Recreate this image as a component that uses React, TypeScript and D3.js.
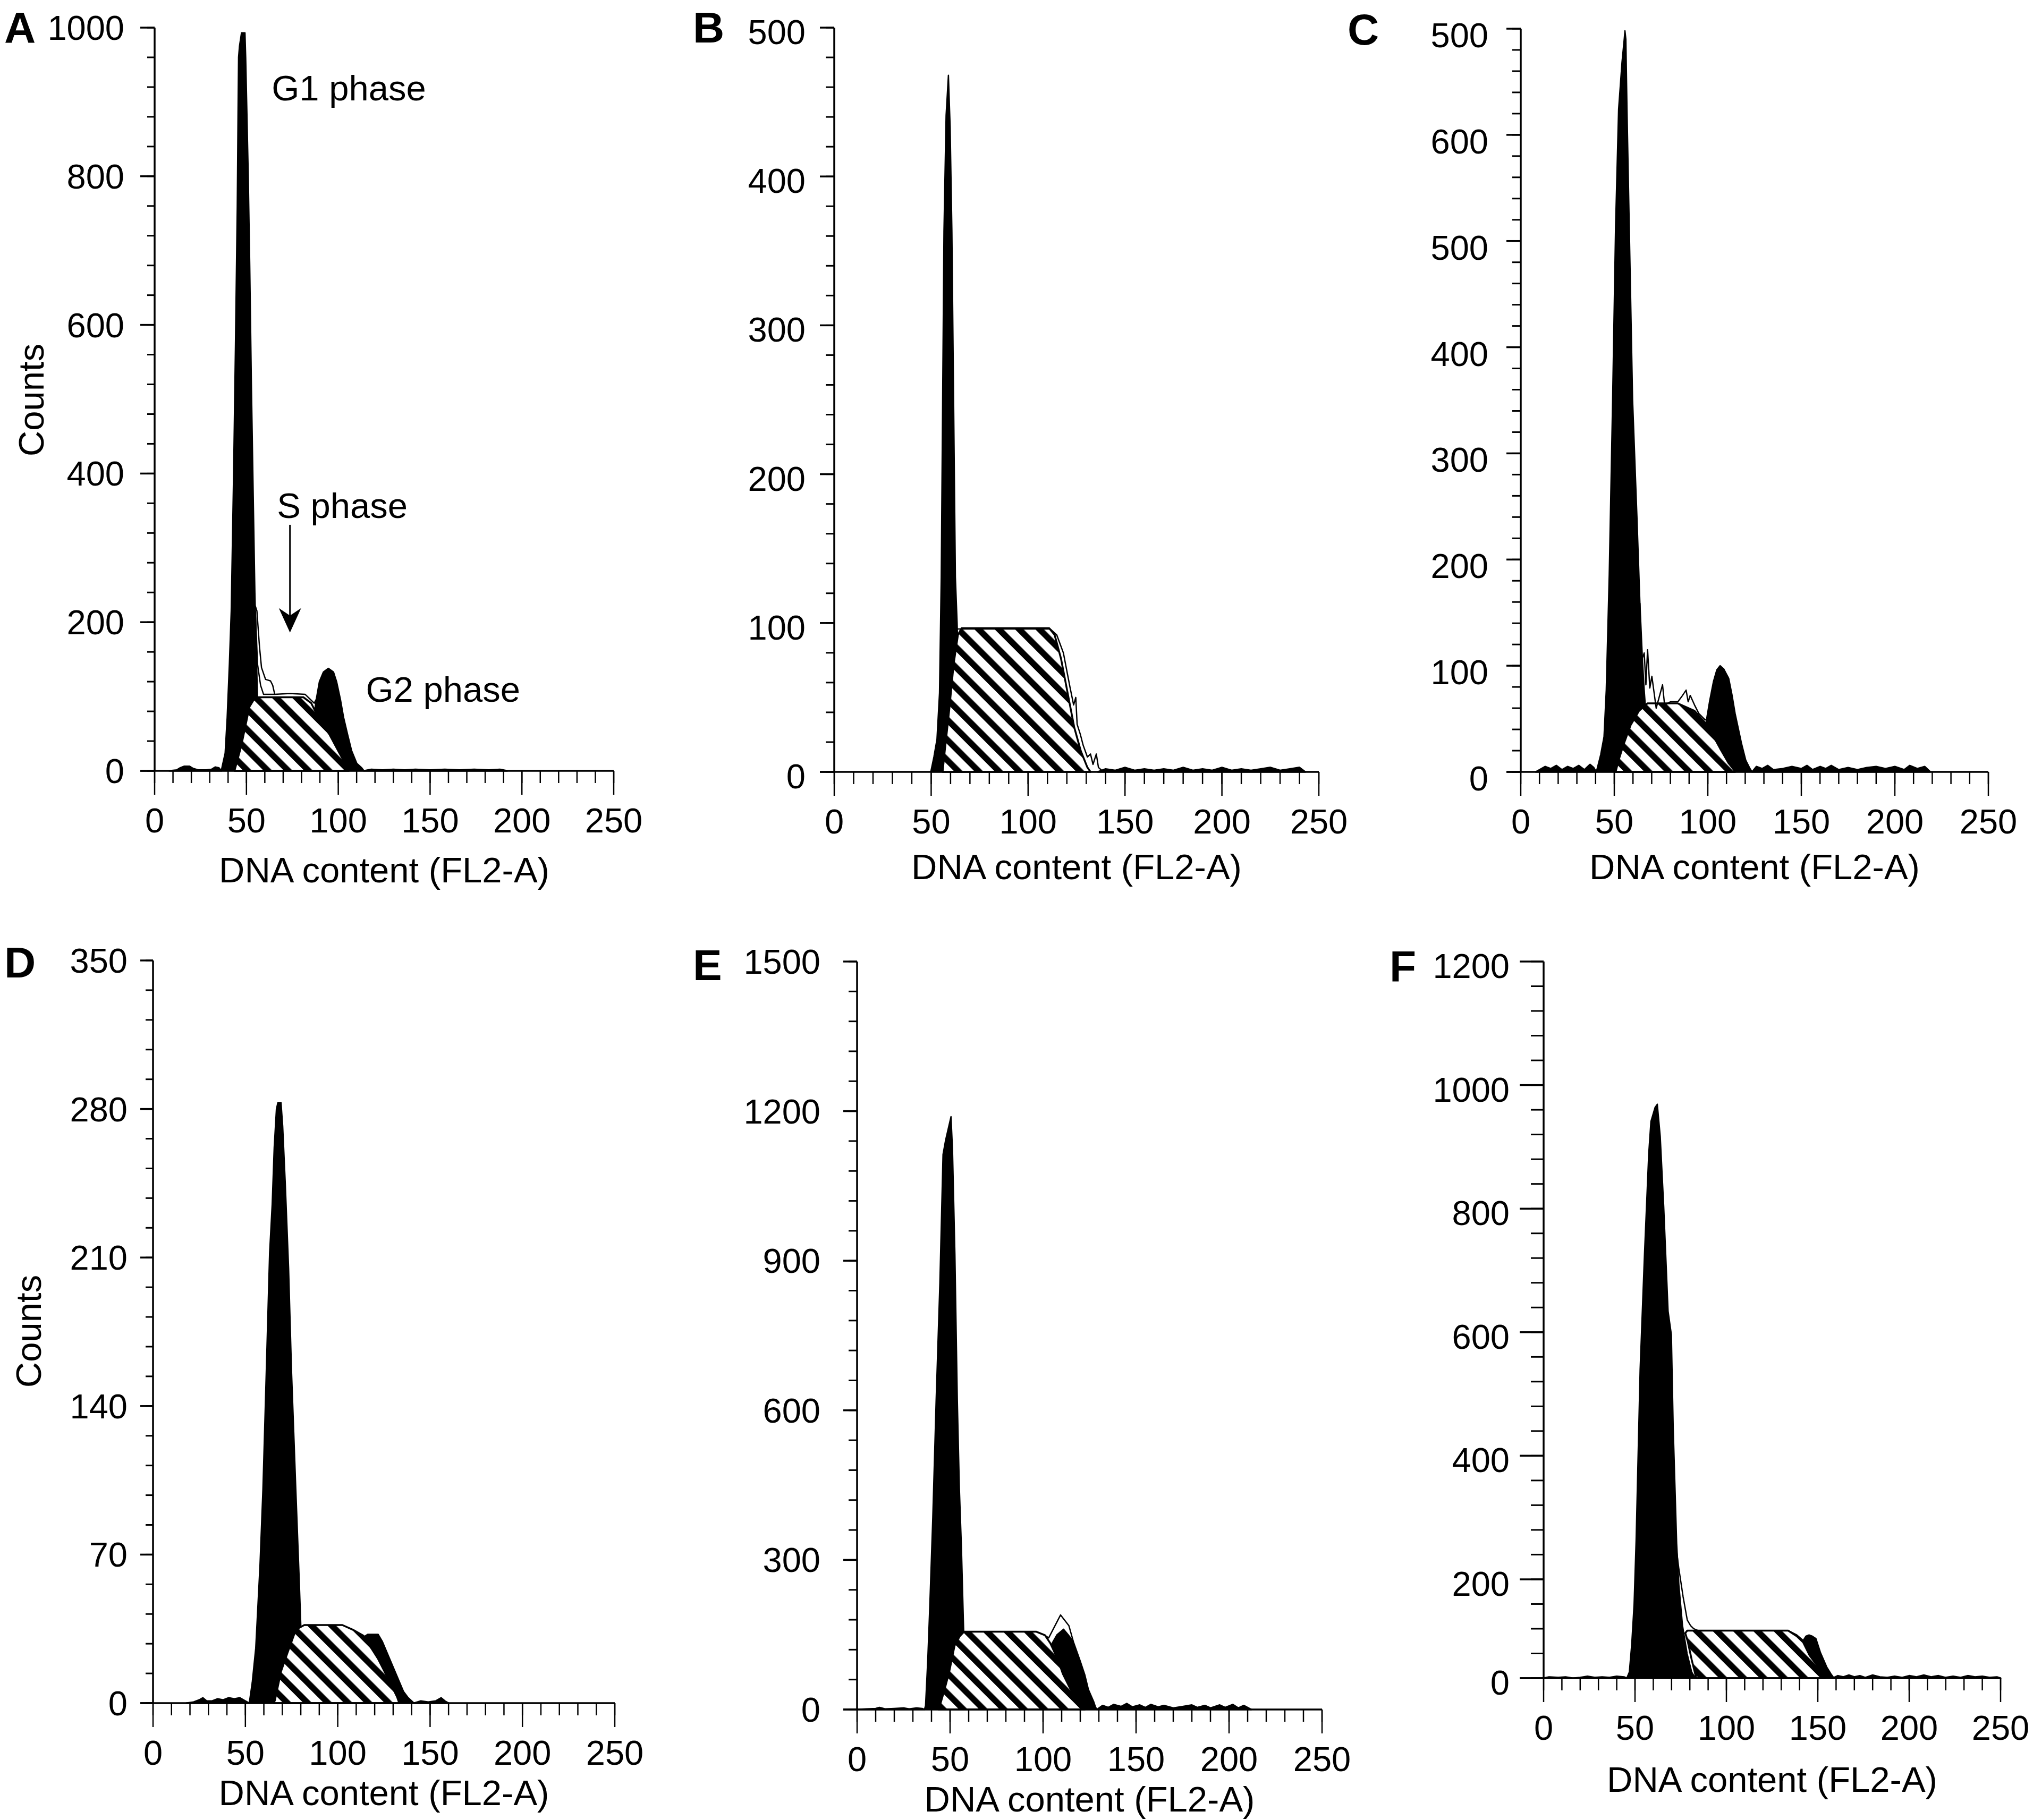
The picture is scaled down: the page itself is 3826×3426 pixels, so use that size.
import React from 'react';
import * as d3 from 'd3';

type Pt = [number, number];

// ---------- shared axis data ----------
const xMajorTicks = [0, 50, 100, 150, 200, 250];
const xMinorStep = 10;
const xTitle = 'DNA content (FL2-A)';
const yTitle = 'Counts';

// ---------- Panel A ----------
const aG1: Pt[] = [[36.3,0],[36.8,6],[38.4,24],[39.5,72],[40.7,144],[41.7,215],[43,400],[44,571],[45,760],[45.4,880],[45.7,960],[46.2,975],[47.3,993],[49.2,993],[49.6,960],[50.3,880],[51,800],[51.8,680],[52.7,520],[53.7,370],[54.6,240],[55.2,180],[55.6,140],[56,100],[57.5,60],[59,30],[61,10],[63,0]];
const aG2: Pt[] = [[82,0],[84.5,30],[86.5,70],[88,96],[89.7,120],[91.9,133],[94.6,138],[97.4,133],[99.1,120],[101.2,96],[102.9,72],[105.1,49],[107.3,27],[110.1,10],[112.8,4],[114,0]];
const aS: Pt[] = [[43.5,0],[43.8,3],[47.2,34],[49.4,60],[51.6,86],[53.8,95],[56.5,99],[81,99],[85.3,91],[89.1,72],[95.2,49],[100.6,24],[105.1,4],[105.8,0]];
const aLine1: Pt[] = [[54.8,222],[55.7,215],[57.1,167],[58.2,139],[60.4,123],[63.1,121],[64.3,115],[65.4,103],[73.7,104],[81.9,103],[86.9,91],[88,96]];
const aLine2: Pt[] = [[54.9,215],[56,144],[57.7,115],[59.3,103],[65.4,103]];
const aNoiseL: Pt[] = [[8,0],[12,1],[14,4],[16,6],[19,6],[21,3],[24,1],[28,1],[31,2],[33,5],[35,4],[36.3,0]];
const aNoiseR: Pt[] = [[114,0],[118,2],[124,1],[130,2],[136,1],[142,2],[150,1],[158,2],[166,1],[174,2],[182,1],[188,2],[192,0]];

// ---------- Panel B ----------
const bG1: Pt[] = [[49.8,0],[51.4,10],[53,22],[54.3,53],[55.2,131],[55.9,247],[56.6,363],[57.7,441],[58.9,468],[59.8,433],[60.7,363],[61.6,247],[62.5,131],[63.4,100],[64.3,53],[65.7,14],[67,0]];
const bG2: Pt[] = [];
const bS: Pt[] = [[55.9,0],[57,14],[59.3,41.5],[61.6,72.5],[63.8,92],[65.7,96.5],[110.9,96.5],[113.7,92],[117,76],[120.4,53],[123.8,30],[127.2,14],[130.6,3],[132.2,0]];
const bLine1: Pt[] = [[63.4,96],[111.4,96],[114.8,92],[118.2,80],[121.6,57],[123.5,45],[124.6,50],[125.3,32],[127,25],[128.4,18],[130.6,10],[132.2,12],[133.5,5],[135.2,12],[136.3,3],[138,1]];
const bLine2: Pt[] = [];
const bNoiseL: Pt[] = [];
const bNoiseR: Pt[] = [[136,0],[140,2],[145,1],[150,3],[155,1],[160,2],[165,1],[170,2],[175,1],[180,3],[185,1],[190,2],[195,1],[200,3],[205,1],[210,2],[215,1],[220,2],[225,3],[230,1],[235,2],[240,3],[243,0]];

// ---------- Panel C ----------
const cG1: Pt[] = [[40.4,0],[42.7,16],[44.5,33],[45.7,77],[47.3,186],[49.1,350],[50.7,515],[52.3,624],[54.1,668],[55.3,690],[55.7,698],[56.2,690],[56.8,624],[58,515],[59.8,350],[62.1,241],[63.7,159],[65.1,104],[66,77],[67.8,33],[70.1,0]];
const cG2: Pt[] = [[96,0],[97.5,20],[98.6,38],[99.3,49],[100.9,66],[103,85],[104.8,96],[106.6,100],[108.5,97],[111.2,88],[113,72],[114.6,55],[118,27],[120.3,11],[122.6,3],[123.7,0]];
const cS: Pt[] = [[50.7,0],[52.3,11],[55.2,27],[58.7,44],[63.2,57.5],[67.8,64.6],[83.8,64.6],[92.9,57.5],[99.8,44],[106.6,22],[111.2,8],[113.5,3],[114.6,0]];
const cLine1: Pt[] = [[63.7,159],[64.4,104],[66,112],[66.9,82],[67.8,115],[69,79],[70.1,90],[72.4,60],[75.8,82],[76.9,63],[80,66],[84,66],[86.1,71],[88.4,77],[89.5,66],[90.6,72],[92.9,63],[95.2,55],[98.6,49],[99.3,49]];
const cLine2: Pt[] = [];
const cNoiseL: Pt[] = [[8,0],[10,2],[13,5],[16,3],[19,6],[22,2],[25,5],[28,3],[31,6],[34,2],[37,7],[39,4],[40.4,0]];
const cNoiseR: Pt[] = [[123.7,0],[126,5],[129,3],[132,6],[135,2],[140,3],[145,5],[150,3],[153,6],[156,2],[160,5],[163,3],[166,6],[170,2],[175,4],[180,2],[185,4],[190,5],[195,3],[200,5],[205,2],[208,6],[212,3],[216,5],[219,0]];

// ---------- Panel D ----------
const dG1: Pt[] = [[52.1,0],[53.7,9.7],[55.6,26],[57.9,65],[59.5,101],[61.3,156],[63.1,212],[64.5,235],[65.6,262],[66.8,280],[67.6,283],[69.3,283],[70.2,272],[71.6,245],[73.4,205],[75,156],[77.3,101],[79.1,59.5],[80,37],[80.7,18],[81.9,0]];
const dG2: Pt[] = [[100,0],[106,15],[110,27],[112.7,30.4],[116.2,32.4],[121.9,32.4],[124.2,29],[127.6,22],[132.2,12.5],[135.6,5.5],[137.9,2.8],[141.3,0]];
const dS: Pt[] = [[65.4,0],[66,1.4],[69.3,15],[72.7,23.5],[77.3,34.6],[81.9,36.8],[102.5,36.8],[108.2,34.6],[113.9,31.8],[121.9,20.8],[127.6,11],[132.2,2.8],[133.3,0]];
const dLine1: Pt[] = [];
const dLine2: Pt[] = [];
const dNoiseL: Pt[] = [[18,0],[22,0.5],[25,1.5],[27,2.5],[29,1],[32,1],[35,2],[38,1.5],[41,2.5],[44,2],[47,2.5],[50,1],[52.1,0]];
const dNoiseR: Pt[] = [[141.3,0],[145,1],[149,0.5],[153,1],[156,2.5],[158,1],[160,0]];

// ---------- Panel E ----------
const eG1: Pt[] = [[36.2,0],[36.8,8],[38,100],[39.1,209],[40.7,385],[42.5,620],[44.5,854],[46.2,1113],[47.6,1142],[50.5,1189],[51.3,1124],[52.6,913],[53.9,620],[55,444],[56.1,326],[57.1,185],[57.9,92],[59.5,0]];
const eG2: Pt[] = [[100,0],[103,60],[104.9,133],[107.5,150],[111,161],[113.5,150],[116.3,136],[120,97],[122.5,69],[124.4,40],[127.2,16],[128.2,5],[129,0]];
const eS: Pt[] = [[43.8,0],[44.3,5],[47,40],[49.5,75],[52.4,128],[55.2,147],[57.5,156],[96.4,156],[101,149],[103.9,133],[108,100],[110.6,72],[113.5,50],[116.3,30],[119.5,12],[122,1.4],[122.5,0]];
const eLine1: Pt[] = [[96.4,156],[101,149],[103,143.5],[109.4,189.6],[113.9,168],[116.3,136]];
const eLine2: Pt[] = [];
const eNoiseL: Pt[] = [[0,0],[5,1],[10,2],[12,4],[15,1],[20,2],[25,3],[28,1],[32,3],[35,2],[36.2,0]];
const eNoiseR: Pt[] = [[129,0],[132,8],[135,4],[138,10],[142,6],[145,12],[148,5],[152,9],[155,4],[158,10],[162,5],[165,8],[170,3],[175,6],[180,9],[183,4],[187,8],[190,3],[195,9],[198,4],[202,10],[205,3],[208,8],[212,0]];

// ---------- Panel F ----------
const fG1: Pt[] = [[45.5,40],[46.9,50],[48.2,95],[49.5,160],[50.6,263],[51.3,351],[52.8,540],[55.2,728],[57.5,889],[58.7,941],[61,964],[62.2,969],[63.8,917],[65.7,804],[68.1,634],[69.9,596],[70.9,445],[72.8,258],[74,191],[76,125],[78.5,80],[81,50],[83,40]];
const fG2: Pt[] = [[138,40],[140,70],[142,101],[143.5,108],[145.2,110],[147,108],[149,104],[151.4,82],[154.9,58],[157.2,47],[158.4,42],[159,40]];
const fS: Pt[] = [[83.5,40],[81,70],[78.8,100],[77.5,113],[78.6,117],[133.8,117],[138.5,108],[142,98],[145.5,77],[149,63],[152.6,49],[154,40]];
const fLine1: Pt[] = [[72.3,257],[73.9,219],[76.3,172],[78.6,134],[80.4,125],[82.1,120],[84.5,117],[133.8,117],[138.5,110],[142,101]];
const fLine2: Pt[] = [];
const fNoiseL: Pt[] = [[0,40],[3,42],[8,41],[12,42],[16,40],[20,41],[24,43],[28,41],[32,42],[36,41],[40,43],[44,42],[45.5,40]];
const fNoiseR: Pt[] = [[158,40],[161,44],[164,42],[167,45],[170,42],[173,44],[176,41],[180,45],[184,42],[188,41],[192,43],[196,41],[200,44],[204,42],[208,45],[212,42],[216,44],[220,41],[224,43],[228,41],[232,44],[236,42],[240,43],[244,41],[248,42],[250,40]];

// ---------- y-axis ticks ----------
const aYTicks = [0, 200, 400, 600, 800, 1000];
const aYLabels = ['0', '200', '400', '600', '800', '1000'];
const bYTicks = [0, 100, 200, 300, 400, 500];
const bYLabels = ['0', '100', '200', '300', '400', '500'];
const cYTicks = [0, 100, 200, 300, 400, 500, 600, 700];
const cYLabels = ['0', '100', '200', '300', '400', '500', '600', '500'];
const dYTicks = [0, 70, 140, 210, 280, 350];
const dYLabels = ['0', '70', '140', '210', '280', '350'];
const eYTicks = [0, 300, 600, 900, 1200, 1500];
const eYLabels = ['0', '300', '600', '900', '1200', '1500'];
const fYTicks = [40, 200, 400, 600, 800, 1000, 1200];
const fYLabels = ['0', '200', '400', '600', '800', '1000', '1200'];

// annotations of panel A (data coordinates)
const aAnnotations = [
  { text: 'G1 phase', x: 63.7, y: 902 },
  { text: 'S phase', x: 66.6, y: 340 },
  { text: 'G2 phase', x: 115, y: 93 },
];
const aArrow = { x: 73.7, yFrom: 331, yTo: 186 };

interface PanelCfg {
  letter: string;
  lx: number; ly: number;
  x0: number; x1: number; yT: number; yB: number;
  yDomain: [number, number];
  yTicks: number[]; yLabels: string[]; yMinor: number;
  gap: number; dy: number; titleDy: number;
  yMaj: number; yMin: number;
  counts?: [number, number];
  g1: Pt[]; g2: Pt[]; s: Pt[]; line1: Pt[]; line2: Pt[]; noiseL: Pt[]; noiseR: Pt[];
  annotate?: boolean;
}

const panels: PanelCfg[] = [
  { letter: 'A', lx: 8, ly: 80, x0: 291, x1: 1155, yT: 52, yB: 1451, yDomain: [0, 1000], yTicks: aYTicks, yLabels: aYLabels, yMinor: 40, gap: 57, dy: 0, titleDy: 210, yMaj: 27, yMin: 14, counts: [82, 753], g1: aG1, g2: aG2, s: aS, line1: aLine1, line2: aLine2, noiseL: aNoiseL, noiseR: aNoiseR, annotate: true },
  { letter: 'B', lx: 1304, ly: 80, x0: 1570, x1: 2482, yT: 52, yB: 1453, yDomain: [0, 500], yTicks: bYTicks, yLabels: bYLabels, yMinor: 20, gap: 54, dy: 8, titleDy: 202, yMaj: 27, yMin: 16, g1: bG1, g2: bG2, s: bS, line1: bLine1, line2: bLine2, noiseL: bNoiseL, noiseR: bNoiseR },
  { letter: 'C', lx: 2536, ly: 84, x0: 2862, x1: 3742, yT: 54, yB: 1453, yDomain: [0, 700], yTicks: cYTicks, yLabels: cYLabels, yMinor: 20, gap: 61, dy: 12, titleDy: 202, yMaj: 27, yMin: 16, g1: cG1, g2: cG2, s: cS, line1: cLine1, line2: cLine2, noiseL: cNoiseL, noiseR: cNoiseR },
  { letter: 'D', lx: 8, ly: 1840, x0: 288, x1: 1157, yT: 1808, yB: 3206, yDomain: [0, 350], yTicks: dYTicks, yLabels: dYLabels, yMinor: 14, gap: 48, dy: 0, titleDy: 192, yMaj: 24, yMin: 14, counts: [77, 2506], g1: dG1, g2: dG2, s: dS, line1: dLine1, line2: dLine2, noiseL: dNoiseL, noiseR: dNoiseR },
  { letter: 'E', lx: 1304, ly: 1845, x0: 1613, x1: 2488, yT: 1810, yB: 3218, yDomain: [0, 1500], yTicks: eYTicks, yLabels: eYLabels, yMinor: 60, gap: 69, dy: 0, titleDy: 192, yMaj: 26, yMin: 16, g1: eG1, g2: eG2, s: eS, line1: eLine1, line2: eLine2, noiseL: eNoiseL, noiseR: eNoiseR },
  { letter: 'F', lx: 2615, ly: 1848, x0: 2905, x1: 3765, yT: 1810, yB: 3159, yDomain: [40, 1200], yTicks: fYTicks, yLabels: fYLabels, yMinor: 40, gap: 64, dy: 8, titleDy: 214, yMaj: 45, yMin: 24, g1: fG1, g2: fG2, s: fS, line1: fLine1, line2: fLine2, noiseL: fNoiseL, noiseR: fNoiseR },
];

const FONT = '"Liberation Sans", Arial, Helvetica, sans-serif';
const FS = 65;
const FS_TITLE = 67;

function Panel({ cfg }: { cfg: PanelCfg }) {
  const x = d3.scaleLinear().domain([0, 250]).range([cfg.x0, cfg.x1]);
  const y = d3.scaleLinear().domain(cfg.yDomain).range([cfg.yB, cfg.yT]);
  const line = d3.line<Pt>().x(d => x(d[0])).y(d => y(d[1]));
  const closed = (pts: Pt[]) => (pts.length ? (line(pts) || '') + 'Z' : '');
  const open = (pts: Pt[]) => (pts.length ? line(pts) || '' : '');

  const yMinorTicks = d3.range(cfg.yDomain[0], cfg.yDomain[1] + 0.001, cfg.yMinor);
  const xMinorTicks = d3.range(0, 250.001, xMinorStep);

  return (
    <g>
      {/* debris / noise */}
      <path d={closed(cfg.noiseL)} fill="#000" stroke="#000" strokeWidth={3} strokeLinejoin="round" />
      <path d={closed(cfg.noiseR)} fill="#000" stroke="#000" strokeWidth={3} strokeLinejoin="round" />
      {/* G1 and G2 peaks */}
      <path d={closed(cfg.g1)} fill="#000" stroke="#000" strokeWidth={2.5} strokeLinejoin="round" />
      <path d={closed(cfg.g2)} fill="#000" stroke="#000" strokeWidth={2.5} strokeLinejoin="round" />
      {/* S phase (hatched) */}
      <path d={closed(cfg.s)} fill="url(#hatch)" stroke="#000" strokeWidth={3.5} strokeLinejoin="round" />
      {/* measured histogram outline */}
      <path d={open(cfg.line1)} fill="none" stroke="#000" strokeWidth={2.5} strokeLinejoin="round" />
      <path d={open(cfg.line2)} fill="none" stroke="#000" strokeWidth={2.5} strokeLinejoin="round" />

      {/* y axis */}
      <line x1={cfg.x0} x2={cfg.x0} y1={cfg.yT} y2={cfg.yB} stroke="#000" strokeWidth={3.5} />
      {yMinorTicks.map((v, i) => (
        <line key={'ym' + i} x1={cfg.x0 - cfg.yMin} x2={cfg.x0} y1={y(v)} y2={y(v)} stroke="#000" strokeWidth={3} />
      ))}
      {cfg.yTicks.map((v, i) => (
        <g key={'yM' + i}>
          <line x1={cfg.x0 - cfg.yMaj} x2={cfg.x0} y1={y(v)} y2={y(v)} stroke="#000" strokeWidth={3.5} />
          <text x={cfg.x0 - cfg.gap} y={y(v) + 23 + cfg.dy} textAnchor="end" fontFamily={FONT} fontSize={FS} fill="#000">{cfg.yLabels[i]}</text>
        </g>
      ))}

      {/* x axis */}
      <line x1={cfg.x0 - cfg.yMaj} x2={cfg.x1} y1={cfg.yB} y2={cfg.yB} stroke="#000" strokeWidth={3.5} />
      {xMinorTicks.map((v, i) => (
        <line key={'xm' + i} x1={x(v)} x2={x(v)} y1={cfg.yB} y2={cfg.yB + 23} stroke="#000" strokeWidth={2.5} />
      ))}
      {xMajorTicks.map((v, i) => (
        <g key={'xM' + i}>
          <line x1={x(v)} x2={x(v)} y1={cfg.yB} y2={cfg.yB + 45} stroke="#000" strokeWidth={2.5} />
          <text x={x(v)} y={cfg.yB + 116} textAnchor="middle" fontFamily={FONT} fontSize={FS} fill="#000">{String(v)}</text>
        </g>
      ))}
      <text x={(cfg.x0 + cfg.x1) / 2} y={cfg.yB + cfg.titleDy} textAnchor="middle" fontFamily={FONT} fontSize={FS_TITLE} fill="#000">{xTitle}</text>

      {cfg.counts && (
        <text transform={`translate(${cfg.counts[0]},${cfg.counts[1]}) rotate(-90)`} textAnchor="middle" fontFamily={FONT} fontSize={FS_TITLE} fill="#000">{yTitle}</text>
      )}

      {/* panel letter */}
      <text x={cfg.lx} y={cfg.ly} fontFamily={FONT} fontWeight="bold" fontSize={82} fill="#000">{cfg.letter}</text>

      {cfg.annotate && (
        <g>
          {aAnnotations.map((a, i) => (
            <text key={'an' + i} x={x(a.x)} y={y(a.y)} fontFamily={FONT} fontSize={FS_TITLE} fill="#000">{a.text}</text>
          ))}
          <line x1={x(aArrow.x)} x2={x(aArrow.x)} y1={y(aArrow.yFrom)} y2={y(aArrow.yTo) - 30} stroke="#000" strokeWidth={3} />
          <path
            d={`M${x(aArrow.x)},${y(aArrow.yTo)} L${x(aArrow.x) - 21},${y(aArrow.yTo) - 46} L${x(aArrow.x)},${y(aArrow.yTo) - 32} L${x(aArrow.x) + 21},${y(aArrow.yTo) - 46} Z`}
            fill="#000"
          />
        </g>
      )}
    </g>
  );
}

export default function App() {
  return (
    <div style={{ position: 'absolute', left: 0, top: 0 }}>
      <svg width={3826} height={3426} viewBox="0 0 3826 3426" xmlns="http://www.w3.org/2000/svg" style={{ display: 'block', background: '#fff' }}>
        <defs>
          <pattern id="hatch" patternUnits="userSpaceOnUse" width={27} height={27} patternTransform="rotate(-45)">
            <rect x={0} y={0} width={27} height={27} fill="#fff" />
            <rect x={0} y={0} width={11.5} height={27} fill="#000" />
          </pattern>
        </defs>
        <rect x={0} y={0} width={3826} height={3426} fill="#fff" />
        {panels.map(p => (
          <Panel key={p.letter} cfg={p} />
        ))}
      </svg>
    </div>
  );
}
